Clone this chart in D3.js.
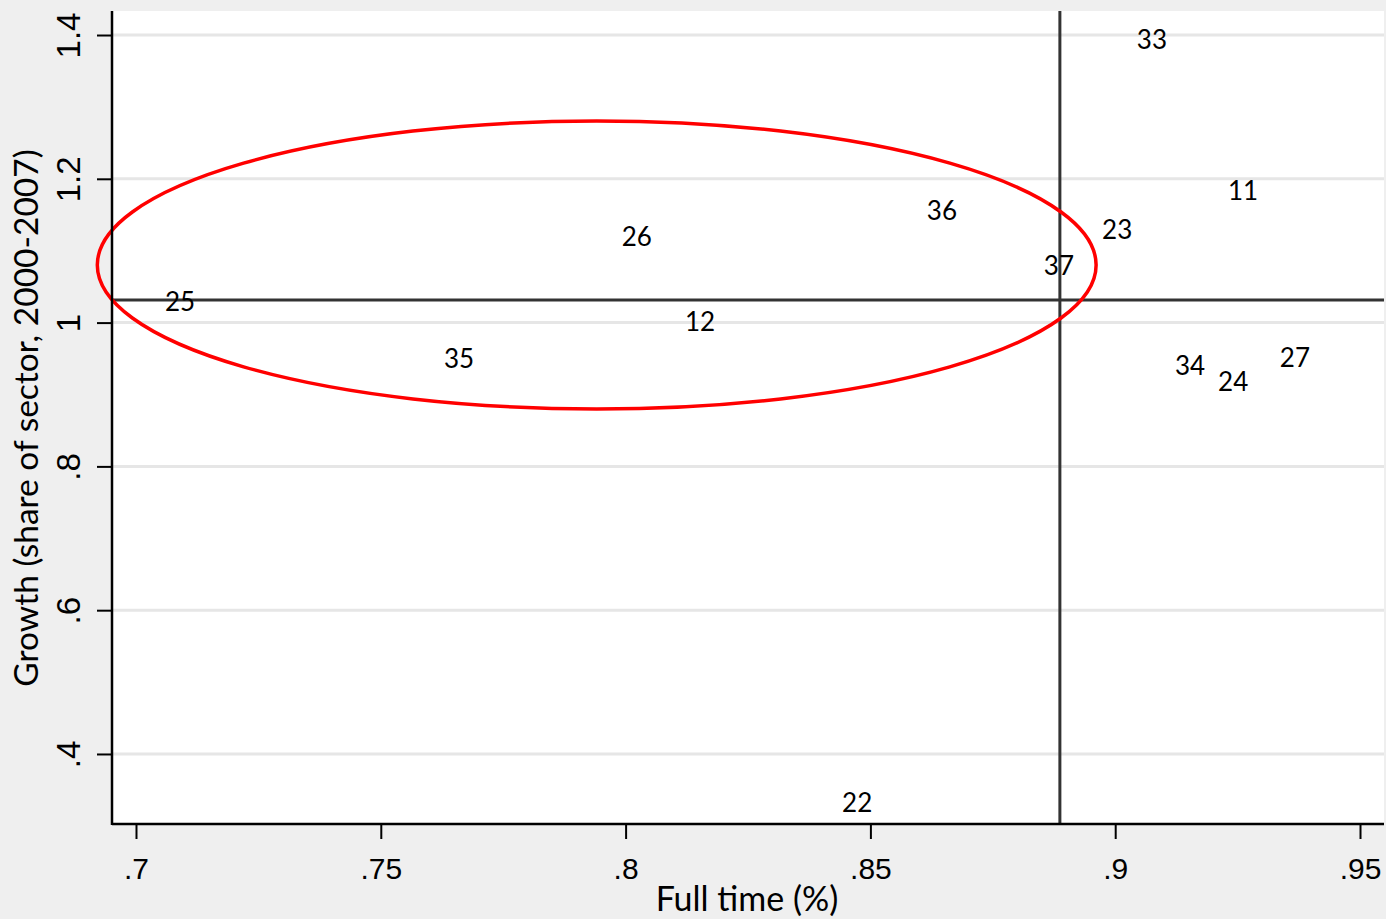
<!DOCTYPE html>
<html>
<head>
<meta charset="utf-8">
<script src="https://cdn.jsdelivr.net/npm/d3@7"></script>
<style>
  html, body { margin: 0; padding: 0; background: #efefef; }
  svg { display: block; }
</style>
</head>
<body>
<svg id="chart" width="1386" height="919"></svg>
<script>
// ---- data ----
const labels = ["33", "11", "36", "23", "26", "37", "25", "12", "35", "34", "27", "24", "22"];
const fullTime = [0.9075, 0.9261, 0.8646, 0.9004, 0.8023, 0.8885, 0.7090, 0.8152, 0.7660, 0.9153, 0.9367, 0.9241, 0.8473];
const growth   = [1.3944, 1.1844, 1.1566, 1.1302, 1.1204, 1.0801, 1.0300, 1.0022, 0.9508, 0.9410, 0.9522, 0.9188, 0.3332];
const xTicks = [0.70, 0.75, 0.80, 0.85, 0.90, 0.95];
const xTickLabels = [".7", ".75", ".8", ".85", ".9", ".95"];
const yTicks = [0.4, 0.6, 0.8, 1.0, 1.2, 1.4];
const yTickLabels = [".4", ".6", ".8", "1", "1.2", "1.4"];
const refX = [0.8887];   // vertical reference line (mean full time)
const refY = [1.0314];   // horizontal reference line (mean growth)
const ellipse = [{cx: 0.7941, cy: 1.0801, rx: 0.1020, ry: 0.2003}];
const xTitle = "Full time (%)";
const yTitle = "Growth (share of sector, 2000-2007)";

// ---- layout ----
const svg = d3.select("#chart");
const W = 1386, H = 919;
const plot = {left: 112, top: 11, right: 1384, bottom: 824};

const x = d3.scaleLinear().domain([0.6951, 0.9549]).range([plot.left, plot.right]);
const y = d3.scaleLinear().domain([0.3026, 1.4334]).range([plot.bottom, plot.top]);

svg.append("rect").attr("width", W).attr("height", H).attr("fill", "#efefef");
svg.append("rect")
  .attr("x", plot.left).attr("y", plot.top)
  .attr("width", plot.right - plot.left).attr("height", plot.bottom - plot.top)
  .attr("fill", "#ffffff");

// gridlines
svg.append("g").selectAll("line").data(yTicks).join("line")
  .attr("x1", plot.left).attr("x2", plot.right)
  .attr("y1", d => y(d)).attr("y2", d => y(d))
  .attr("stroke", "#e6e6e6").attr("stroke-width", 3);

// reference lines
svg.append("g").selectAll("line").data(refY).join("line")
  .attr("x1", plot.left).attr("x2", plot.right)
  .attr("y1", d => y(d)).attr("y2", d => y(d))
  .attr("stroke", "#333333").attr("stroke-width", 3);
svg.append("g").selectAll("line").data(refX).join("line")
  .attr("y1", plot.top).attr("y2", plot.bottom)
  .attr("x1", d => x(d)).attr("x2", d => x(d))
  .attr("stroke", "#333333").attr("stroke-width", 3);

// point labels (no markers)
svg.append("g").selectAll("text").data(labels).join("text")
  .attr("x", (d, i) => x(fullTime[i]))
  .attr("y", (d, i) => y(growth[i]))
  .attr("text-anchor", "middle")
  .attr("dominant-baseline", "central")
  .attr("font-family", "Lato, 'Open Sans', sans-serif")
  .attr("font-size", 26)
  .attr("fill", "#000")
  .text(d => d);

// ellipse annotation
svg.append("g").selectAll("ellipse").data(ellipse).join("ellipse")
  .attr("cx", d => x(d.cx)).attr("cy", d => y(d.cy))
  .attr("rx", d => x(d.cx + d.rx) - x(d.cx))
  .attr("ry", d => y(d.cy) - y(d.cy + d.ry))
  .attr("fill", "none").attr("stroke", "#ff0000").attr("stroke-width", 3.5);

// axes
const xAxis = d3.axisBottom(x).tickValues(xTicks)
  .tickFormat((d, i) => xTickLabels[i]).tickSize(15).tickPadding(8);
const gx = svg.append("g").attr("transform", `translate(0,${plot.bottom})`).call(xAxis);
gx.select(".domain").remove();
gx.selectAll(".tick line").attr("stroke", "#000").attr("stroke-width", 2);
gx.selectAll(".tick text")
  .attr("font-family", "'Liberation Sans', Arial, sans-serif")
  .attr("font-size", 30).attr("fill", "#000")
  .attr("dy", null).attr("y", 55);

const yAxis = d3.axisLeft(y).tickValues(yTicks)
  .tickFormat((d, i) => yTickLabels[i]).tickSize(15);
const gy = svg.append("g").attr("transform", `translate(${plot.left},0)`).call(yAxis);
gy.select(".domain").remove();
gy.selectAll(".tick line").attr("stroke", "#000").attr("stroke-width", 2);
gy.selectAll(".tick text")
  .attr("font-family", "'Liberation Sans', Arial, sans-serif")
  .attr("font-size", 33).attr("fill", "#000")
  .attr("x", null).attr("dy", null)
  .attr("text-anchor", "middle")
  .attr("transform", "translate(-32,0) rotate(-90)");

// axis lines
svg.append("line").attr("x1", plot.left).attr("x2", plot.left)
  .attr("y1", plot.top).attr("y2", plot.bottom + 1)
  .attr("stroke", "#000").attr("stroke-width", 2.5);
svg.append("line").attr("x1", plot.left).attr("x2", plot.right)
  .attr("y1", plot.bottom).attr("y2", plot.bottom)
  .attr("stroke", "#000").attr("stroke-width", 2.5);

// titles
svg.append("text")
  .attr("x", 747).attr("y", 911)
  .attr("text-anchor", "middle")
  .attr("font-family", "Lato, 'Open Sans', sans-serif")
  .attr("font-size", 34).attr("fill", "#000")
  .text(xTitle);
svg.append("text")
  .attr("transform", `translate(38,418) rotate(-90)`)
  .attr("text-anchor", "middle")
  .attr("font-family", "Lato, 'Open Sans', sans-serif")
  .attr("font-size", 33.5).attr("fill", "#000")
  .text(yTitle);
</script>
</body>
</html>
